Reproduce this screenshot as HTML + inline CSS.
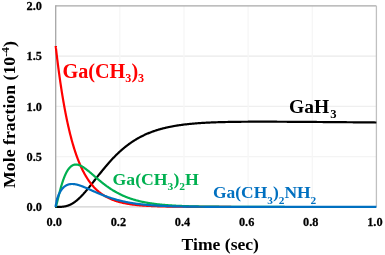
<!DOCTYPE html>
<html><head><meta charset="utf-8"><style>
html,body{margin:0;padding:0;background:#fff;}
svg{display:block;font-family:"Liberation Serif",serif;font-weight:bold;will-change:transform;}
</style></head><body>
<svg width="385" height="255" viewBox="0 0 385 255">
<rect width="385" height="255" fill="#fff"/>
<line x1="55.7" y1="56.15" x2="376.4" y2="56.15" stroke="#eaeaea" stroke-width="1.3"/>
<line x1="55.7" y1="106.40" x2="376.4" y2="106.40" stroke="#efefef" stroke-width="1.3"/>
<line x1="55.7" y1="156.65" x2="376.4" y2="156.65" stroke="#f4f4f4" stroke-width="1.3"/>
<line x1="119.84" y1="5.9" x2="119.84" y2="206.9" stroke="#f6f6f6" stroke-width="1.3"/>
<line x1="183.98" y1="5.9" x2="183.98" y2="206.9" stroke="#f6f6f6" stroke-width="1.3"/>
<line x1="248.12" y1="5.9" x2="248.12" y2="206.9" stroke="#f6f6f6" stroke-width="1.3"/>
<line x1="312.26" y1="5.9" x2="312.26" y2="206.9" stroke="#f6f6f6" stroke-width="1.3"/>
<line x1="55.7" y1="5.9" x2="376.4" y2="5.9" stroke="#a8a8a8" stroke-width="1.3"/>
<line x1="376.4" y1="5.9" x2="376.4" y2="206.9" stroke="#c0c0c0" stroke-width="1.3"/>
<line x1="55.7" y1="206.9" x2="376.4" y2="206.9" stroke="#d0d0d0" stroke-width="1.3"/>
<line x1="55.7" y1="5.25" x2="55.7" y2="206.9" stroke="#a6a6a6" stroke-width="1.3"/>
<g font-size="13.4" fill="#000" stroke="#000" stroke-width="0.25">
<text transform="translate(41.9,211.10) scale(0.92,1)" text-anchor="end">0.0</text>
<text transform="translate(41.9,160.85) scale(0.92,1)" text-anchor="end">0.5</text>
<text transform="translate(41.9,110.60) scale(0.92,1)" text-anchor="end">1.0</text>
<text transform="translate(41.9,60.35) scale(0.92,1)" text-anchor="end">1.5</text>
<text transform="translate(41.9,10.10) scale(0.92,1)" text-anchor="end">2.0</text>
<text transform="translate(54.20,226.4) scale(0.92,1)" text-anchor="middle">0.0</text>
<text transform="translate(118.34,226.4) scale(0.92,1)" text-anchor="middle">0.2</text>
<text transform="translate(182.48,226.4) scale(0.92,1)" text-anchor="middle">0.4</text>
<text transform="translate(246.62,226.4) scale(0.92,1)" text-anchor="middle">0.6</text>
<text transform="translate(310.76,226.4) scale(0.92,1)" text-anchor="middle">0.8</text>
<text transform="translate(374.90,226.4) scale(0.92,1)" text-anchor="middle">1.0</text>
</g>
<g fill="none" stroke-width="2.2" stroke-linejoin="round" stroke-linecap="butt">
<path d="M55.20 206.90 L55.70 206.90 L55.70 206.90 L55.70 206.90 L55.71 206.90 L55.71 206.90 L55.72 206.90 L55.73 206.90 L55.74 206.90 L55.76 206.90 L55.77 206.90 L55.79 206.90 L55.81 206.90 L55.83 206.90 L55.85 206.90 L55.87 206.90 L55.90 206.90 L55.93 206.90 L55.96 206.90 L55.99 206.90 L56.02 206.90 L56.06 206.90 L56.09 206.90 L56.13 206.90 L56.17 206.90 L56.21 206.90 L56.26 206.90 L56.30 206.90 L56.35 206.90 L56.40 206.90 L56.45 206.90 L56.50 206.90 L56.56 206.90 L56.61 206.90 L56.67 206.90 L56.73 206.90 L56.79 206.90 L56.85 206.90 L56.92 206.90 L56.99 206.90 L57.05 206.90 L57.13 206.90 L57.20 206.90 L57.27 206.90 L57.35 206.90 L57.42 206.90 L57.50 206.90 L57.59 206.90 L57.67 206.90 L57.75 206.90 L57.84 206.90 L57.93 206.90 L58.02 206.90 L58.11 206.90 L58.20 206.90 L58.30 206.89 L58.39 206.89 L58.49 206.89 L58.59 206.89 L58.70 206.89 L58.80 206.89 L58.91 206.89 L59.01 206.89 L59.12 206.89 L59.24 206.88 L59.35 206.88 L59.46 206.88 L59.58 206.88 L59.70 206.87 L59.82 206.87 L59.94 206.87 L60.07 206.86 L60.19 206.86 L60.32 206.85 L60.45 206.85 L60.58 206.85 L60.71 206.84 L60.85 206.83 L60.98 206.83 L61.12 206.82 L61.26 206.81 L61.40 206.80 L61.54 206.79 L61.69 206.78 L61.84 206.77 L61.99 206.76 L62.14 206.75 L62.29 206.74 L62.44 206.72 L62.60 206.71 L62.76 206.69 L62.92 206.68 L63.08 206.66 L63.24 206.64 L63.40 206.62 L63.57 206.60 L63.74 206.58 L63.91 206.55 L64.08 206.53 L64.26 206.50 L64.43 206.47 L64.61 206.44 L64.79 206.41 L64.97 206.37 L65.15 206.34 L65.34 206.30 L65.52 206.26 L65.71 206.22 L65.90 206.18 L66.09 206.13 L66.28 206.08 L66.48 206.03 L66.68 205.98 L66.87 205.93 L67.08 205.87 L67.28 205.81 L67.48 205.74 L67.69 205.68 L67.89 205.61 L68.10 205.54 L68.32 205.46 L68.53 205.38 L68.74 205.30 L68.96 205.22 L69.18 205.13 L69.40 205.04 L69.62 204.95 L69.84 204.85 L70.07 204.75 L70.30 204.64 L70.52 204.53 L70.76 204.42 L70.99 204.30 L71.22 204.18 L71.46 204.05 L71.70 203.92 L71.94 203.79 L72.18 203.65 L72.42 203.51 L72.67 203.36 L72.91 203.21 L73.16 203.05 L73.41 202.89 L73.66 202.73 L73.92 202.56 L74.17 202.38 L74.43 202.20 L74.69 202.02 L74.95 201.83 L75.21 201.63 L75.48 201.43 L75.74 201.23 L76.01 201.02 L76.28 200.80 L76.55 200.58 L76.83 200.36 L77.10 200.13 L77.38 199.89 L77.66 199.65 L77.94 199.40 L78.22 199.15 L78.51 198.90 L78.79 198.63 L79.08 198.36 L79.37 198.09 L79.66 197.81 L79.95 197.53 L80.25 197.24 L80.54 196.94 L80.84 196.64 L81.14 196.34 L81.45 196.03 L81.75 195.71 L82.05 195.39 L82.36 195.06 L82.67 194.73 L82.98 194.40 L83.29 194.05 L83.61 193.71 L83.93 193.35 L84.24 193.00 L84.56 192.63 L84.88 192.27 L85.21 191.90 L85.53 191.52 L85.86 191.14 L86.19 190.75 L86.52 190.36 L86.85 189.96 L87.19 189.56 L87.52 189.16 L87.86 188.75 L88.20 188.34 L88.54 187.92 L88.88 187.50 L89.23 187.08 L89.57 186.65 L89.92 186.21 L90.27 185.78 L90.62 185.34 L90.98 184.89 L91.33 184.45 L91.69 183.99 L92.05 183.54 L92.41 183.08 L92.77 182.62 L93.14 182.16 L93.50 181.69 L93.87 181.22 L94.24 180.75 L94.61 180.28 L94.99 179.80 L95.36 179.32 L95.74 178.84 L96.12 178.36 L96.50 177.87 L96.88 177.39 L97.26 176.90 L97.65 176.41 L98.04 175.92 L98.43 175.42 L98.82 174.93 L99.21 174.43 L99.60 173.93 L100.00 173.44 L100.40 172.94 L100.80 172.44 L101.20 171.94 L101.60 171.44 L102.01 170.94 L102.42 170.43 L102.83 169.93 L103.24 169.43 L103.65 168.93 L104.06 168.43 L104.48 167.93 L104.90 167.43 L105.32 166.92 L105.74 166.42 L106.16 165.93 L106.59 165.43 L107.01 164.93 L107.44 164.43 L107.87 163.94 L108.30 163.44 L108.74 162.95 L109.17 162.46 L109.61 161.97 L110.05 161.48 L110.49 160.99 L110.93 160.50 L111.38 160.02 L111.82 159.54 L112.27 159.06 L112.72 158.58 L113.17 158.10 L113.63 157.63 L114.08 157.16 L114.54 156.69 L115.00 156.22 L115.46 155.76 L115.92 155.30 L116.38 154.84 L116.85 154.38 L117.32 153.93 L117.79 153.48 L118.26 153.03 L118.73 152.59 L119.21 152.15 L119.68 151.71 L120.16 151.27 L120.64 150.84 L121.12 150.41 L121.61 149.98 L122.09 149.56 L122.58 149.14 L123.07 148.73 L123.56 148.31 L124.05 147.91 L124.55 147.50 L125.04 147.10 L125.54 146.70 L126.04 146.30 L126.54 145.91 L127.05 145.53 L127.55 145.14 L128.06 144.76 L128.57 144.38 L129.08 144.01 L129.59 143.64 L130.10 143.28 L130.62 142.92 L131.14 142.56 L131.66 142.20 L132.18 141.85 L132.70 141.51 L133.22 141.17 L133.75 140.83 L134.28 140.49 L134.81 140.16 L135.34 139.83 L135.88 139.51 L136.41 139.19 L136.95 138.88 L137.49 138.56 L138.03 138.26 L138.57 137.95 L139.11 137.65 L139.66 137.35 L140.21 137.06 L140.76 136.77 L141.31 136.49 L141.86 136.21 L142.42 135.93 L142.97 135.66 L143.53 135.39 L144.09 135.12 L144.66 134.86 L145.22 134.60 L145.78 134.34 L146.35 134.09 L146.92 133.84 L147.49 133.60 L148.07 133.36 L148.64 133.12 L149.22 132.89 L149.79 132.66 L150.37 132.43 L150.96 132.21 L151.54 131.99 L152.12 131.77 L152.71 131.56 L153.30 131.35 L153.89 131.14 L154.48 130.94 L155.08 130.74 L155.67 130.54 L156.27 130.35 L156.87 130.16 L157.47 129.97 L158.08 129.78 L158.68 129.60 L159.29 129.43 L159.90 129.25 L160.51 129.08 L161.12 128.91 L161.73 128.74 L162.35 128.58 L162.96 128.42 L163.58 128.26 L164.20 128.11 L164.83 127.96 L165.45 127.81 L166.08 127.66 L166.71 127.52 L167.34 127.38 L167.97 127.24 L168.60 127.10 L169.24 126.97 L169.87 126.84 L170.51 126.71 L171.15 126.58 L171.79 126.46 L172.44 126.34 L173.08 126.22 L173.73 126.10 L174.38 125.99 L175.03 125.88 L175.69 125.77 L176.34 125.66 L177.00 125.56 L177.66 125.45 L178.32 125.35 L178.98 125.25 L179.64 125.16 L180.31 125.06 L180.97 124.97 L181.64 124.88 L182.31 124.79 L182.99 124.70 L183.66 124.62 L184.34 124.53 L185.01 124.45 L185.69 124.37 L186.38 124.30 L187.06 124.22 L187.74 124.14 L188.43 124.07 L189.12 124.00 L189.81 123.93 L190.50 123.86 L191.20 123.80 L191.89 123.73 L192.59 123.67 L193.29 123.61 L193.99 123.54 L194.69 123.49 L195.40 123.43 L196.10 123.37 L196.81 123.32 L197.52 123.26 L198.23 123.21 L198.95 123.16 L199.66 123.11 L200.38 123.06 L201.10 123.01 L201.82 122.97 L202.54 122.92 L203.27 122.88 L203.99 122.84 L204.72 122.80 L205.45 122.76 L206.18 122.72 L206.91 122.68 L207.65 122.64 L208.39 122.60 L209.12 122.57 L209.86 122.54 L210.61 122.50 L211.35 122.47 L212.10 122.44 L212.84 122.41 L213.59 122.38 L214.34 122.35 L215.10 122.32 L215.85 122.29 L216.61 122.27 L217.36 122.24 L218.12 122.22 L218.89 122.19 L219.65 122.17 L220.42 122.15 L221.18 122.13 L221.95 122.11 L222.72 122.09 L223.49 122.07 L224.27 122.05 L225.04 122.03 L225.82 122.01 L226.60 121.99 L227.38 121.98 L228.17 121.96 L228.95 121.95 L229.74 121.93 L230.53 121.92 L231.32 121.90 L232.11 121.89 L232.90 121.88 L233.70 121.87 L234.49 121.85 L235.29 121.84 L236.09 121.83 L236.90 121.82 L237.70 121.81 L238.51 121.80 L239.32 121.79 L240.12 121.79 L240.94 121.78 L241.75 121.77 L242.56 121.76 L243.38 121.76 L244.20 121.75 L245.02 121.74 L245.84 121.74 L246.67 121.73 L247.49 121.73 L248.32 121.72 L249.15 121.72 L249.98 121.72 L250.81 121.71 L251.65 121.71 L252.49 121.71 L253.32 121.70 L254.16 121.70 L255.01 121.70 L255.85 121.70 L256.69 121.70 L257.54 121.70 L258.39 121.69 L259.24 121.69 L260.09 121.69 L260.95 121.69 L261.80 121.69 L262.66 121.69 L263.52 121.69 L264.38 121.69 L265.25 121.70 L266.11 121.70 L266.98 121.70 L267.85 121.70 L268.72 121.70 L269.59 121.70 L270.46 121.71 L271.34 121.71 L272.22 121.71 L273.10 121.71 L273.98 121.72 L274.86 121.72 L275.74 121.72 L276.63 121.72 L277.52 121.73 L278.41 121.73 L279.30 121.74 L280.19 121.74 L281.09 121.74 L281.99 121.75 L282.88 121.75 L283.79 121.76 L284.69 121.76 L285.59 121.77 L286.50 121.77 L287.41 121.78 L288.32 121.78 L289.23 121.79 L290.14 121.79 L291.05 121.80 L291.97 121.80 L292.89 121.81 L293.81 121.81 L294.73 121.82 L295.66 121.82 L296.58 121.83 L297.51 121.84 L298.44 121.84 L299.37 121.85 L300.30 121.86 L301.24 121.86 L302.17 121.87 L303.11 121.87 L304.05 121.88 L304.99 121.89 L305.94 121.89 L306.88 121.90 L307.83 121.91 L308.78 121.92 L309.73 121.92 L310.68 121.93 L311.63 121.94 L312.59 121.94 L313.55 121.95 L314.51 121.96 L315.47 121.97 L316.43 121.97 L317.39 121.98 L318.36 121.99 L319.33 122.00 L320.30 122.00 L321.27 122.01 L322.25 122.02 L323.22 122.03 L324.20 122.04 L325.18 122.04 L326.16 122.05 L327.14 122.06 L328.12 122.07 L329.11 122.08 L330.10 122.08 L331.09 122.09 L332.08 122.10 L333.07 122.11 L334.07 122.12 L335.07 122.13 L336.06 122.13 L337.06 122.14 L338.07 122.15 L339.07 122.16 L340.08 122.17 L341.08 122.18 L342.09 122.19 L343.10 122.19 L344.12 122.20 L345.13 122.21 L346.15 122.22 L347.17 122.23 L348.19 122.24 L349.21 122.25 L350.23 122.26 L351.26 122.26 L352.28 122.27 L353.31 122.28 L354.34 122.29 L355.38 122.30 L356.41 122.31 L357.45 122.32 L358.48 122.33 L359.52 122.34 L360.57 122.35 L361.61 122.35 L362.65 122.36 L363.70 122.37 L364.75 122.38 L365.80 122.39 L366.85 122.40 L367.91 122.41 L368.96 122.42 L370.02 122.43 L371.08 122.44 L372.14 122.45 L373.20 122.46 L374.27 122.47 L375.33 122.48 L376.40 122.49" stroke="#000"/>
<path d="M55.70 46.10 L55.70 46.11 L55.70 46.14 L55.71 46.20 L55.72 46.27 L55.73 46.36 L55.74 46.48 L55.76 46.62 L55.78 46.78 L55.80 46.96 L55.82 47.16 L55.85 47.38 L55.87 47.62 L55.90 47.88 L55.94 48.16 L55.97 48.47 L56.01 48.79 L56.05 49.13 L56.09 49.50 L56.13 49.88 L56.18 50.28 L56.23 50.71 L56.28 51.15 L56.34 51.61 L56.39 52.09 L56.45 52.59 L56.51 53.11 L56.58 53.65 L56.64 54.20 L56.71 54.77 L56.78 55.36 L56.86 55.97 L56.93 56.60 L57.01 57.24 L57.09 57.90 L57.17 58.58 L57.26 59.27 L57.35 59.98 L57.44 60.70 L57.53 61.44 L57.62 62.20 L57.72 62.97 L57.82 63.75 L57.92 64.55 L58.03 65.37 L58.14 66.20 L58.24 67.04 L58.36 67.89 L58.47 68.76 L58.59 69.64 L58.71 70.53 L58.83 71.44 L58.95 72.35 L59.08 73.28 L59.21 74.22 L59.34 75.17 L59.47 76.13 L59.61 77.10 L59.75 78.08 L59.89 79.07 L60.03 80.07 L60.17 81.08 L60.32 82.10 L60.47 83.12 L60.63 84.15 L60.78 85.19 L60.94 86.24 L61.10 87.29 L61.26 88.35 L61.43 89.42 L61.59 90.49 L61.76 91.57 L61.93 92.65 L62.11 93.73 L62.29 94.83 L62.46 95.92 L62.65 97.02 L62.83 98.12 L63.02 99.23 L63.21 100.34 L63.40 101.45 L63.59 102.56 L63.79 103.68 L63.98 104.79 L64.19 105.91 L64.39 107.03 L64.59 108.15 L64.80 109.27 L65.01 110.39 L65.23 111.51 L65.44 112.63 L65.66 113.75 L65.88 114.86 L66.10 115.98 L66.33 117.09 L66.55 118.21 L66.78 119.32 L67.02 120.42 L67.25 121.53 L67.49 122.63 L67.73 123.73 L67.97 124.82 L68.21 125.91 L68.46 127.00 L68.71 128.08 L68.96 129.16 L69.21 130.24 L69.47 131.31 L69.73 132.37 L69.99 133.43 L70.25 134.48 L70.52 135.53 L70.79 136.57 L71.06 137.61 L71.33 138.63 L71.60 139.66 L71.88 140.67 L72.16 141.68 L72.45 142.69 L72.73 143.68 L73.02 144.67 L73.31 145.65 L73.60 146.62 L73.89 147.59 L74.19 148.55 L74.49 149.50 L74.79 150.44 L75.10 151.37 L75.40 152.30 L75.71 153.22 L76.02 154.13 L76.34 155.03 L76.65 155.92 L76.97 156.80 L77.29 157.67 L77.62 158.54 L77.94 159.40 L78.27 160.24 L78.60 161.08 L78.94 161.91 L79.27 162.73 L79.61 163.54 L79.95 164.34 L80.29 165.13 L80.64 165.92 L80.99 166.69 L81.34 167.46 L81.69 168.21 L82.04 168.95 L82.40 169.69 L82.76 170.42 L83.12 171.13 L83.49 171.84 L83.85 172.54 L84.22 173.23 L84.59 173.91 L84.97 174.58 L85.34 175.24 L85.72 175.89 L86.10 176.53 L86.49 177.16 L86.87 177.78 L87.26 178.40 L87.65 179.00 L88.05 179.60 L88.44 180.18 L88.84 180.76 L89.24 181.33 L89.64 181.88 L90.05 182.43 L90.46 182.97 L90.87 183.51 L91.28 184.03 L91.69 184.54 L92.11 185.05 L92.53 185.55 L92.95 186.04 L93.38 186.52 L93.80 186.99 L94.23 187.45 L94.67 187.90 L95.10 188.35 L95.54 188.79 L95.97 189.22 L96.42 189.64 L96.86 190.06 L97.31 190.46 L97.75 190.86 L98.21 191.26 L98.66 191.64 L99.11 192.02 L99.57 192.39 L100.03 192.75 L100.50 193.10 L100.96 193.45 L101.43 193.79 L101.90 194.12 L102.37 194.45 L102.85 194.77 L103.33 195.08 L103.81 195.39 L104.29 195.69 L104.77 195.98 L105.26 196.27 L105.75 196.55 L106.24 196.83 L106.73 197.10 L107.23 197.36 L107.73 197.62 L108.23 197.87 L108.74 198.12 L109.24 198.36 L109.75 198.59 L110.26 198.82 L110.78 199.05 L111.29 199.26 L111.81 199.48 L112.33 199.69 L112.85 199.89 L113.38 200.09 L113.91 200.28 L114.44 200.47 L114.97 200.66 L115.51 200.84 L116.04 201.02 L116.58 201.19 L117.13 201.35 L117.67 201.52 L118.22 201.68 L118.77 201.83 L119.32 201.98 L119.87 202.13 L120.43 202.27 L120.99 202.41 L121.55 202.55 L122.11 202.68 L122.68 202.81 L123.25 202.94 L123.82 203.06 L124.40 203.18 L124.97 203.29 L125.55 203.41 L126.13 203.52 L126.71 203.62 L127.30 203.73 L127.89 203.83 L128.48 203.92 L129.07 204.02 L129.67 204.11 L130.26 204.20 L130.86 204.29 L131.47 204.37 L132.07 204.46 L132.68 204.54 L133.29 204.61 L133.90 204.69 L134.52 204.76 L135.13 204.83 L135.75 204.90 L136.37 204.97 L137.00 205.03 L137.62 205.10 L138.25 205.16 L138.88 205.22 L139.52 205.28 L140.15 205.33 L140.79 205.38 L141.43 205.44 L142.08 205.49 L142.72 205.54 L143.37 205.58 L144.02 205.63 L144.68 205.68 L145.33 205.72 L145.99 205.76 L146.65 205.80 L147.31 205.84 L147.98 205.88 L148.64 205.91 L149.31 205.95 L149.99 205.98 L150.66 206.02 L151.34 206.05 L152.02 206.08 L152.70 206.11 L153.38 206.14 L154.07 206.17 L154.76 206.20 L155.45 206.22 L156.14 206.25 L156.84 206.27 L157.54 206.29 L158.24 206.32 L158.94 206.34 L159.65 206.36 L160.36 206.38 L161.07 206.40 L161.78 206.42 L162.50 206.44 L163.22 206.46 L163.94 206.47 L164.66 206.49 L165.38 206.51 L166.11 206.52 L166.84 206.54 L167.57 206.55 L168.31 206.56 L169.05 206.58 L169.79 206.59 L170.53 206.60 L171.27 206.61 L172.02 206.63 L172.77 206.64 L173.52 206.65 L174.27 206.66 L175.03 206.67 L175.79 206.68 L176.55 206.69 L177.31 206.70 L178.08 206.70 L178.85 206.71 L179.62 206.72 L180.39 206.73 L181.17 206.73 L181.95 206.74 L182.73 206.75 L183.51 206.75 L184.30 206.76 L185.08 206.77 L185.87 206.77 L186.67 206.78 L187.46 206.78 L188.26 206.79 L189.06 206.79 L189.86 206.80 L190.66 206.80 L191.47 206.81 L192.28 206.81 L193.09 206.81 L193.91 206.82 L194.72 206.82 L195.54 206.82 L196.36 206.83 L197.19 206.83 L198.01 206.83 L198.84 206.84 L199.67 206.84 L200.51 206.84 L201.34 206.85 L202.18 206.85 L203.02 206.85 L203.86 206.85 L204.71 206.85 L205.56 206.86 L206.41 206.86 L207.26 206.86 L208.12 206.86 L208.97 206.86 L209.83 206.87 L210.70 206.87 L211.56 206.87 L212.43 206.87 L213.30 206.87 L214.17 206.87 L215.04 206.87 L215.92 206.88 L216.80 206.88 L217.68 206.88 L218.56 206.88 L219.45 206.88 L220.34 206.88 L221.23 206.88 L222.12 206.88 L223.02 206.88 L223.92 206.88 L224.82 206.88 L225.72 206.89 L226.63 206.89 L227.54 206.89 L228.45 206.89 L229.36 206.89 L230.27 206.89 L231.19 206.89" stroke="#ff0000"/>
<path d="M55.70 206.90 L55.70 206.90 L55.70 206.90 L55.71 206.89 L55.71 206.89 L55.72 206.87 L55.73 206.86 L55.74 206.84 L55.76 206.82 L55.77 206.79 L55.79 206.75 L55.81 206.71 L55.83 206.66 L55.85 206.61 L55.87 206.55 L55.90 206.48 L55.93 206.41 L55.96 206.33 L55.99 206.24 L56.02 206.14 L56.06 206.04 L56.09 205.92 L56.13 205.80 L56.17 205.67 L56.21 205.54 L56.26 205.39 L56.30 205.24 L56.35 205.07 L56.40 204.90 L56.45 204.72 L56.50 204.53 L56.56 204.33 L56.61 204.13 L56.67 203.91 L56.73 203.68 L56.79 203.45 L56.85 203.21 L56.92 202.96 L56.99 202.70 L57.05 202.43 L57.13 202.15 L57.20 201.86 L57.27 201.57 L57.35 201.26 L57.42 200.95 L57.50 200.63 L57.59 200.30 L57.67 199.97 L57.75 199.63 L57.84 199.27 L57.93 198.91 L58.02 198.55 L58.11 198.18 L58.20 197.79 L58.30 197.41 L58.39 197.01 L58.49 196.61 L58.59 196.21 L58.70 195.79 L58.80 195.38 L58.91 194.95 L59.01 194.52 L59.12 194.09 L59.24 193.65 L59.35 193.20 L59.46 192.75 L59.58 192.30 L59.70 191.84 L59.82 191.38 L59.94 190.92 L60.07 190.45 L60.19 189.98 L60.32 189.51 L60.45 189.04 L60.58 188.56 L60.71 188.08 L60.85 187.60 L60.98 187.12 L61.12 186.64 L61.26 186.16 L61.40 185.67 L61.54 185.19 L61.69 184.71 L61.84 184.22 L61.99 183.74 L62.14 183.26 L62.29 182.78 L62.44 182.30 L62.60 181.83 L62.76 181.35 L62.92 180.88 L63.08 180.41 L63.24 179.94 L63.40 179.48 L63.57 179.02 L63.74 178.57 L63.91 178.11 L64.08 177.67 L64.26 177.22 L64.43 176.78 L64.61 176.35 L64.79 175.92 L64.97 175.50 L65.15 175.08 L65.34 174.67 L65.52 174.26 L65.71 173.86 L65.90 173.47 L66.09 173.08 L66.28 172.70 L66.48 172.33 L66.68 171.96 L66.87 171.61 L67.08 171.26 L67.28 170.91 L67.48 170.58 L67.69 170.25 L67.89 169.93 L68.10 169.62 L68.32 169.32 L68.53 169.02 L68.74 168.74 L68.96 168.46 L69.18 168.19 L69.40 167.94 L69.62 167.69 L69.84 167.45 L70.07 167.22 L70.30 166.99 L70.52 166.78 L70.76 166.58 L70.99 166.39 L71.22 166.20 L71.46 166.03 L71.70 165.86 L71.94 165.71 L72.18 165.56 L72.42 165.43 L72.67 165.30 L72.91 165.18 L73.16 165.08 L73.41 164.98 L73.66 164.89 L73.92 164.81 L74.17 164.75 L74.43 164.69 L74.69 164.64 L74.95 164.60 L75.21 164.57 L75.48 164.55 L75.74 164.54 L76.01 164.53 L76.28 164.54 L76.55 164.56 L76.83 164.58 L77.10 164.62 L77.38 164.66 L77.66 164.71 L77.94 164.77 L78.22 164.84 L78.51 164.92 L78.79 165.01 L79.08 165.10 L79.37 165.20 L79.66 165.31 L79.95 165.43 L80.25 165.56 L80.54 165.69 L80.84 165.83 L81.14 165.98 L81.45 166.14 L81.75 166.30 L82.05 166.47 L82.36 166.65 L82.67 166.83 L82.98 167.02 L83.29 167.22 L83.61 167.42 L83.93 167.63 L84.24 167.85 L84.56 168.07 L84.88 168.29 L85.21 168.53 L85.53 168.76 L85.86 169.01 L86.19 169.25 L86.52 169.51 L86.85 169.77 L87.19 170.03 L87.52 170.29 L87.86 170.56 L88.20 170.84 L88.54 171.12 L88.88 171.40 L89.23 171.69 L89.57 171.98 L89.92 172.27 L90.27 172.57 L90.62 172.86 L90.98 173.17 L91.33 173.47 L91.69 173.78 L92.05 174.09 L92.41 174.40 L92.77 174.71 L93.14 175.03 L93.50 175.35 L93.87 175.67 L94.24 175.99 L94.61 176.31 L94.99 176.64 L95.36 176.96 L95.74 177.29 L96.12 177.61 L96.50 177.94 L96.88 178.27 L97.26 178.60 L97.65 178.93 L98.04 179.26 L98.43 179.59 L98.82 179.92 L99.21 180.25 L99.60 180.58 L100.00 180.91 L100.40 181.23 L100.80 181.56 L101.20 181.89 L101.60 182.22 L102.01 182.54 L102.42 182.87 L102.83 183.19 L103.24 183.51 L103.65 183.84 L104.06 184.16 L104.48 184.48 L104.90 184.79 L105.32 185.11 L105.74 185.42 L106.16 185.74 L106.59 186.05 L107.01 186.36 L107.44 186.66 L107.87 186.97 L108.30 187.27 L108.74 187.57 L109.17 187.87 L109.61 188.17 L110.05 188.47 L110.49 188.76 L110.93 189.05 L111.38 189.34 L111.82 189.62 L112.27 189.90 L112.72 190.19 L113.17 190.46 L113.63 190.74 L114.08 191.01 L114.54 191.28 L115.00 191.55 L115.46 191.81 L115.92 192.08 L116.38 192.33 L116.85 192.59 L117.32 192.84 L117.79 193.10 L118.26 193.34 L118.73 193.59 L119.21 193.83 L119.68 194.07 L120.16 194.31 L120.64 194.54 L121.12 194.77 L121.61 195.00 L122.09 195.22 L122.58 195.45 L123.07 195.67 L123.56 195.88 L124.05 196.10 L124.55 196.31 L125.04 196.51 L125.54 196.72 L126.04 196.92 L126.54 197.12 L127.05 197.31 L127.55 197.51 L128.06 197.70 L128.57 197.89 L129.08 198.07 L129.59 198.25 L130.10 198.43 L130.62 198.61 L131.14 198.78 L131.66 198.95 L132.18 199.12 L132.70 199.29 L133.22 199.45 L133.75 199.61 L134.28 199.76 L134.81 199.92 L135.34 200.07 L135.88 200.22 L136.41 200.37 L136.95 200.51 L137.49 200.65 L138.03 200.79 L138.57 200.93 L139.11 201.06 L139.66 201.20 L140.21 201.33 L140.76 201.45 L141.31 201.58 L141.86 201.70 L142.42 201.82 L142.97 201.94 L143.53 202.05 L144.09 202.17 L144.66 202.28 L145.22 202.39 L145.78 202.50 L146.35 202.60 L146.92 202.70 L147.49 202.80 L148.07 202.90 L148.64 203.00 L149.22 203.09 L149.79 203.19 L150.37 203.28 L150.96 203.37 L151.54 203.46 L152.12 203.54 L152.71 203.62 L153.30 203.71 L153.89 203.79 L154.48 203.86 L155.08 203.94 L155.67 204.02 L156.27 204.09 L156.87 204.16 L157.47 204.23 L158.08 204.30 L158.68 204.37 L159.29 204.43 L159.90 204.50 L160.51 204.56 L161.12 204.62 L161.73 204.68 L162.35 204.74 L162.96 204.80 L163.58 204.85 L164.20 204.91 L164.83 204.96 L165.45 205.01 L166.08 205.06 L166.71 205.11 L167.34 205.16 L167.97 205.21 L168.60 205.26 L169.24 205.30 L169.87 205.35 L170.51 205.39 L171.15 205.43 L171.79 205.47 L172.44 205.51 L173.08 205.55 L173.73 205.59 L174.38 205.62 L175.03 205.66 L175.69 205.70 L176.34 205.73 L177.00 205.76 L177.66 205.80 L178.32 205.83 L178.98 205.86 L179.64 205.89 L180.31 205.92 L180.97 205.95 L181.64 205.97 L182.31 206.00 L182.99 206.03 L183.66 206.05 L184.34 206.08 L185.01 206.10 L185.69 206.13 L186.38 206.15 L187.06 206.17 L187.74 206.19 L188.43 206.21 L189.12 206.23 L189.81 206.25 L190.50 206.27 L191.20 206.29 L191.89 206.31 L192.59 206.33 L193.29 206.35 L193.99 206.36 L194.69 206.38 L195.40 206.40 L196.10 206.41 L196.81 206.43 L197.52 206.44 L198.23 206.46 L198.95 206.47 L199.66 206.48 L200.38 206.50 L201.10 206.51 L201.82 206.52 L202.54 206.53 L203.27 206.54 L203.99 206.56 L204.72 206.57 L205.45 206.58 L206.18 206.59 L206.91 206.60 L207.65 206.61 L208.39 206.62 L209.12 206.63 L209.86 206.64 L210.61 206.64 L211.35 206.65 L212.10 206.66 L212.84 206.67 L213.59 206.68 L214.34 206.68 L215.10 206.69 L215.85 206.70 L216.61 206.70 L217.36 206.71 L218.12 206.72 L218.89 206.72 L219.65 206.73 L220.42 206.73 L221.18 206.74 L221.95 206.75 L222.72 206.75 L223.49 206.76 L224.27 206.76 L225.04 206.77 L225.82 206.77 L226.60 206.77 L227.38 206.78 L228.17 206.78 L228.95 206.79 L229.74 206.79 L230.53 206.79 L231.32 206.80 L232.11 206.80 L232.90 206.81 L233.70 206.81 L234.49 206.81 L235.29 206.82 L236.09 206.82 L236.90 206.82 L237.70 206.82 L238.51 206.83 L239.32 206.83 L240.12 206.83 L240.94 206.83 L241.75 206.84 L242.56 206.84 L243.38 206.84 L244.20 206.84 L245.02 206.85 L245.84 206.85 L246.67 206.85 L247.49 206.85 L248.32 206.85 L249.15 206.85 L249.98 206.86 L250.81 206.86 L251.65 206.86 L252.49 206.86 L253.32 206.86 L254.16 206.86 L255.01 206.86 L255.85 206.87 L256.69 206.87 L257.54 206.87 L258.39 206.87 L259.24 206.87 L260.09 206.87 L260.95 206.87 L261.80 206.87 L262.66 206.88 L263.52 206.88 L264.38 206.88 L265.25 206.88 L266.11 206.88 L266.98 206.88 L267.85 206.88 L268.72 206.88 L269.59 206.88 L270.46 206.88 L271.34 206.88 L272.22 206.88 L273.10 206.88 L273.98 206.88 L274.86 206.89 L275.74 206.89 L276.63 206.89 L277.52 206.89 L278.41 206.89 L279.30 206.89 L280.19 206.89 L281.09 206.89 L281.99 206.89 L282.88 206.89 L283.79 206.89 L284.69 206.89" stroke="#00b050"/>
<path d="M55.70 206.90 L55.70 206.84 L55.70 206.76 L55.71 206.66 L55.71 206.54 L55.72 206.42 L55.73 206.28 L55.74 206.14 L55.76 205.99 L55.77 205.83 L55.79 205.67 L55.81 205.50 L55.83 205.33 L55.85 205.15 L55.87 204.96 L55.90 204.78 L55.93 204.59 L55.96 204.39 L55.99 204.19 L56.02 203.99 L56.06 203.78 L56.09 203.58 L56.13 203.36 L56.17 203.15 L56.21 202.93 L56.26 202.71 L56.30 202.49 L56.35 202.27 L56.40 202.04 L56.45 201.81 L56.50 201.58 L56.56 201.35 L56.61 201.12 L56.67 200.88 L56.73 200.64 L56.79 200.41 L56.85 200.17 L56.92 199.93 L56.99 199.69 L57.05 199.44 L57.13 199.20 L57.20 198.96 L57.27 198.71 L57.35 198.47 L57.42 198.22 L57.50 197.98 L57.59 197.73 L57.67 197.49 L57.75 197.24 L57.84 197.00 L57.93 196.75 L58.02 196.51 L58.11 196.26 L58.20 196.02 L58.30 195.77 L58.39 195.53 L58.49 195.29 L58.59 195.04 L58.70 194.80 L58.80 194.56 L58.91 194.32 L59.01 194.09 L59.12 193.85 L59.24 193.62 L59.35 193.38 L59.46 193.15 L59.58 192.92 L59.70 192.69 L59.82 192.46 L59.94 192.24 L60.07 192.01 L60.19 191.79 L60.32 191.57 L60.45 191.35 L60.58 191.13 L60.71 190.92 L60.85 190.71 L60.98 190.50 L61.12 190.29 L61.26 190.09 L61.40 189.89 L61.54 189.69 L61.69 189.49 L61.84 189.30 L61.99 189.11 L62.14 188.92 L62.29 188.73 L62.44 188.55 L62.60 188.37 L62.76 188.20 L62.92 188.02 L63.08 187.85 L63.24 187.69 L63.40 187.52 L63.57 187.36 L63.74 187.20 L63.91 187.05 L64.08 186.90 L64.26 186.75 L64.43 186.61 L64.61 186.47 L64.79 186.34 L64.97 186.20 L65.15 186.07 L65.34 185.95 L65.52 185.83 L65.71 185.71 L65.90 185.60 L66.09 185.49 L66.28 185.38 L66.48 185.28 L66.68 185.18 L66.87 185.08 L67.08 184.99 L67.28 184.91 L67.48 184.82 L67.69 184.74 L67.89 184.67 L68.10 184.60 L68.32 184.53 L68.53 184.47 L68.74 184.41 L68.96 184.35 L69.18 184.30 L69.40 184.25 L69.62 184.21 L69.84 184.17 L70.07 184.14 L70.30 184.10 L70.52 184.08 L70.76 184.05 L70.99 184.03 L71.22 184.02 L71.46 184.01 L71.70 184.00 L71.94 183.99 L72.18 183.99 L72.42 184.00 L72.67 184.00 L72.91 184.01 L73.16 184.03 L73.41 184.05 L73.66 184.07 L73.92 184.09 L74.17 184.12 L74.43 184.16 L74.69 184.19 L74.95 184.23 L75.21 184.28 L75.48 184.32 L75.74 184.37 L76.01 184.43 L76.28 184.49 L76.55 184.55 L76.83 184.61 L77.10 184.68 L77.38 184.75 L77.66 184.82 L77.94 184.90 L78.22 184.98 L78.51 185.06 L78.79 185.15 L79.08 185.23 L79.37 185.33 L79.66 185.42 L79.95 185.52 L80.25 185.62 L80.54 185.72 L80.84 185.82 L81.14 185.93 L81.45 186.04 L81.75 186.15 L82.05 186.27 L82.36 186.39 L82.67 186.51 L82.98 186.63 L83.29 186.75 L83.61 186.88 L83.93 187.01 L84.24 187.14 L84.56 187.27 L84.88 187.40 L85.21 187.54 L85.53 187.68 L85.86 187.82 L86.19 187.96 L86.52 188.10 L86.85 188.25 L87.19 188.39 L87.52 188.54 L87.86 188.69 L88.20 188.84 L88.54 188.99 L88.88 189.14 L89.23 189.29 L89.57 189.45 L89.92 189.61 L90.27 189.76 L90.62 189.92 L90.98 190.08 L91.33 190.24 L91.69 190.40 L92.05 190.56 L92.41 190.72 L92.77 190.88 L93.14 191.05 L93.50 191.21 L93.87 191.37 L94.24 191.54 L94.61 191.70 L94.99 191.87 L95.36 192.03 L95.74 192.20 L96.12 192.36 L96.50 192.53 L96.88 192.69 L97.26 192.86 L97.65 193.02 L98.04 193.19 L98.43 193.35 L98.82 193.52 L99.21 193.68 L99.60 193.85 L100.00 194.01 L100.40 194.18 L100.80 194.34 L101.20 194.50 L101.60 194.67 L102.01 194.83 L102.42 194.99 L102.83 195.15 L103.24 195.31 L103.65 195.47 L104.06 195.63 L104.48 195.79 L104.90 195.94 L105.32 196.10 L105.74 196.26 L106.16 196.41 L106.59 196.57 L107.01 196.72 L107.44 196.87 L107.87 197.02 L108.30 197.17 L108.74 197.32 L109.17 197.47 L109.61 197.62 L110.05 197.77 L110.49 197.91 L110.93 198.05 L111.38 198.20 L111.82 198.34 L112.27 198.48 L112.72 198.62 L113.17 198.76 L113.63 198.89 L114.08 199.03 L114.54 199.16 L115.00 199.30 L115.46 199.43 L115.92 199.56 L116.38 199.69 L116.85 199.81 L117.32 199.94 L117.79 200.07 L118.26 200.19 L118.73 200.31 L119.21 200.43 L119.68 200.55 L120.16 200.67 L120.64 200.79 L121.12 200.90 L121.61 201.02 L122.09 201.13 L122.58 201.24 L123.07 201.35 L123.56 201.46 L124.05 201.57 L124.55 201.67 L125.04 201.77 L125.54 201.88 L126.04 201.98 L126.54 202.08 L127.05 202.18 L127.55 202.27 L128.06 202.37 L128.57 202.46 L129.08 202.56 L129.59 202.65 L130.10 202.74 L130.62 202.83 L131.14 202.91 L131.66 203.00 L132.18 203.09 L132.70 203.17 L133.22 203.25 L133.75 203.33 L134.28 203.41 L134.81 203.49 L135.34 203.57 L135.88 203.64 L136.41 203.72 L136.95 203.79 L137.49 203.86 L138.03 203.93 L138.57 204.00 L139.11 204.07 L139.66 204.13 L140.21 204.20 L140.76 204.26 L141.31 204.33 L141.86 204.39 L142.42 204.45 L142.97 204.51 L143.53 204.57 L144.09 204.62 L144.66 204.68 L145.22 204.74 L145.78 204.79 L146.35 204.84 L146.92 204.89 L147.49 204.95 L148.07 204.99 L148.64 205.04 L149.22 205.09 L149.79 205.14 L150.37 205.18 L150.96 205.23 L151.54 205.27 L152.12 205.32 L152.71 205.36 L153.30 205.40 L153.89 205.44 L154.48 205.48 L155.08 205.52 L155.67 205.55 L156.27 205.59 L156.87 205.63 L157.47 205.66 L158.08 205.70 L158.68 205.73 L159.29 205.76 L159.90 205.79 L160.51 205.83 L161.12 205.86 L161.73 205.89 L162.35 205.91 L162.96 205.94 L163.58 205.97 L164.20 206.00 L164.83 206.02 L165.45 206.05 L166.08 206.07 L166.71 206.10 L167.34 206.12 L167.97 206.14 L168.60 206.17 L169.24 206.19 L169.87 206.21 L170.51 206.23 L171.15 206.25 L171.79 206.27 L172.44 206.29 L173.08 206.31 L173.73 206.33 L174.38 206.35 L175.03 206.36 L175.69 206.38 L176.34 206.40 L177.00 206.41 L177.66 206.43 L178.32 206.44 L178.98 206.46 L179.64 206.47 L180.31 206.49 L180.97 206.50 L181.64 206.51 L182.31 206.52 L182.99 206.54 L183.66 206.55 L184.34 206.56 L185.01 206.57 L185.69 206.58 L186.38 206.59 L187.06 206.60 L187.74 206.61 L188.43 206.62 L189.12 206.63 L189.81 206.64 L190.50 206.65 L191.20 206.66 L191.89 206.67 L192.59 206.67 L193.29 206.68 L193.99 206.69 L194.69 206.70 L195.40 206.70 L196.10 206.71 L196.81 206.72 L197.52 206.72 L198.23 206.73 L198.95 206.74 L199.66 206.74 L200.38 206.75 L201.10 206.75 L201.82 206.76 L202.54 206.76 L203.27 206.77 L203.99 206.77 L204.72 206.78 L205.45 206.78 L206.18 206.79 L206.91 206.79 L207.65 206.80 L208.39 206.80 L209.12 206.80 L209.86 206.81 L210.61 206.81 L211.35 206.81 L212.10 206.82 L212.84 206.82 L213.59 206.82 L214.34 206.83 L215.10 206.83 L215.85 206.83 L216.61 206.83 L217.36 206.84 L218.12 206.84 L218.89 206.84 L219.65 206.84 L220.42 206.85 L221.18 206.85 L221.95 206.85 L222.72 206.85 L223.49 206.85 L224.27 206.86 L225.04 206.86 L225.82 206.86 L226.60 206.86 L227.38 206.86 L228.17 206.86 L228.95 206.87 L229.74 206.87 L230.53 206.87 L231.32 206.87 L232.11 206.87 L232.90 206.87 L233.70 206.87 L234.49 206.87 L235.29 206.88 L236.09 206.88 L236.90 206.88 L237.70 206.88 L238.51 206.88 L239.32 206.88 L240.12 206.88 L240.94 206.88 L241.75 206.88 L242.56 206.88 L243.38 206.88 L244.20 206.89 L245.02 206.89 L245.84 206.89 L246.67 206.89 L247.49 206.89 L248.32 206.89 L249.15 206.89 L249.98 206.89 L250.81 206.89 L251.65 206.89 L252.49 206.89 L253.32 206.89 L254.16 206.89 L255.01 206.89 L255.85 206.89 L256.69 206.89 L257.54 206.89 L258.39 206.89 L259.24 206.89 L260.09 206.89 L260.95 206.89 L261.80 206.89 L262.66 206.89 L263.52 206.89 L264.38 206.90 L265.25 206.90 L266.11 206.90 L266.98 206.90 L267.85 206.90 L268.72 206.90 L269.59 206.90 L270.46 206.90 L271.34 206.90 L272.22 206.90 L273.10 206.90 L273.98 206.90 L274.86 206.90 L275.74 206.90 L276.63 206.90 L277.52 206.90 L278.41 206.90 L279.30 206.90 L280.19 206.90 L281.09 206.90 L281.99 206.90 L282.88 206.90 L283.79 206.90 L284.69 206.90 L285.59 206.90 L286.50 206.90 L287.41 206.90 L288.32 206.90 L289.23 206.90 L290.14 206.90 L291.05 206.90 L291.97 206.90 L292.89 206.90 L293.81 206.90 L294.73 206.90 L295.66 206.90 L296.58 206.90 L297.51 206.90 L298.44 206.90 L299.37 206.90 L300.30 206.90 L301.24 206.90 L302.17 206.90 L303.11 206.90 L304.05 206.90 L304.99 206.90 L305.94 206.90 L306.88 206.90 L307.83 206.90 L308.78 206.90 L309.73 206.90 L310.68 206.90 L311.63 206.90 L312.59 206.90 L313.55 206.90 L314.51 206.90 L315.47 206.90 L316.43 206.90 L317.39 206.90 L318.36 206.90 L319.33 206.90 L320.30 206.90 L321.27 206.90 L322.25 206.90 L323.22 206.90 L324.20 206.90 L325.18 206.90 L326.16 206.90 L327.14 206.90 L328.12 206.90 L329.11 206.90 L330.10 206.90 L331.09 206.90 L332.08 206.90 L333.07 206.90 L334.07 206.90 L335.07 206.90 L336.06 206.90 L337.06 206.90 L338.07 206.90 L339.07 206.90 L340.08 206.90 L341.08 206.90 L342.09 206.90 L343.10 206.90 L344.12 206.90 L345.13 206.90 L346.15 206.90 L347.17 206.90 L348.19 206.90 L349.21 206.90 L350.23 206.90 L351.26 206.90 L352.28 206.90 L353.31 206.90 L354.34 206.90 L355.38 206.90 L356.41 206.90 L357.45 206.90 L358.48 206.90 L359.52 206.90 L360.57 206.90 L361.61 206.90 L362.65 206.90 L363.70 206.90 L364.75 206.90 L365.80 206.90 L366.85 206.90 L367.91 206.90 L368.96 206.90 L370.02 206.90 L371.08 206.90 L372.14 206.90 L373.20 206.90 L374.27 206.90 L375.33 206.90 L376.40 206.90" stroke="#0070c0"/>
</g>
<text transform="translate(62.5,78.0) scale(1.0,1)" font-size="20.2" fill="#ff0000">Ga(CH<tspan font-size="12.12" dx="0" dy="4.40">3</tspan><tspan dy="-4.40">)</tspan><tspan font-size="12.12" dx="0" dy="4.40">3</tspan></text>
<text transform="translate(289.0,112.9) scale(1.03,1)" font-size="19.0" fill="#000">GaH<tspan font-size="12.35" dx="1.1" dy="5.20">3</tspan></text>
<text transform="translate(112.5,184.7) scale(1.025,1)" font-size="17.3" fill="#00b050">Ga(CH<tspan font-size="11.25" dx="0" dy="4.80">3</tspan><tspan dy="-4.80">)</tspan><tspan font-size="11.25" dx="0" dy="4.80">2</tspan><tspan dy="-4.80">H</tspan></text>
<text transform="translate(213.0,198.2) scale(1.015,1)" font-size="17.2" fill="#0070c0">Ga(CH<tspan font-size="11.18" dx="0" dy="5.40">3</tspan><tspan dy="-5.40">)</tspan><tspan font-size="11.18" dx="0" dy="5.40">2</tspan><tspan dy="-5.40">NH</tspan><tspan font-size="11.18" dx="0" dy="5.40">2</tspan></text>
<text transform="translate(181.6,249.9) scale(1.03,1)" font-size="17.1" fill="#000">Time (sec)</text>
<text transform="translate(15.4,187.9) rotate(-90) scale(1.027,1)" font-size="17.3" fill="#000">Mole fraction (10<tspan font-size="11.4" dy="-6.4">-4</tspan><tspan dy="6.4">)</tspan></text>
</svg>
</body></html>
